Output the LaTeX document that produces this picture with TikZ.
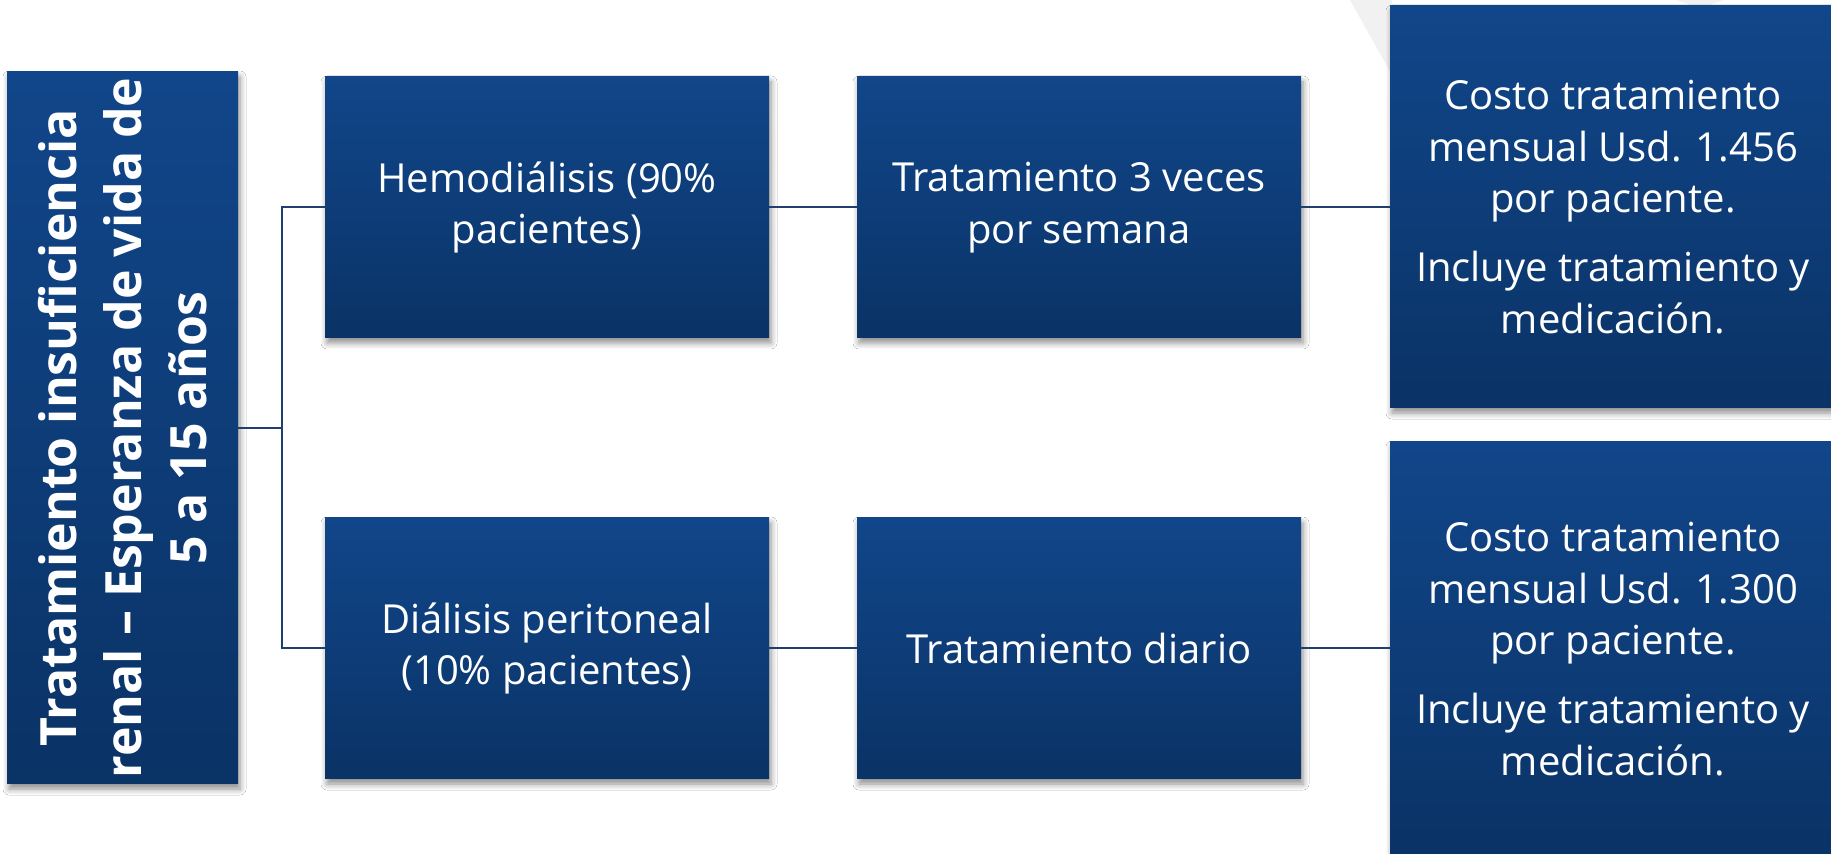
\documentclass[tikz,border=0pt]{standalone}
\usepackage{fontspec}
\setmainfont{Open Sans}
\usetikzlibrary{shadows.blur}
\definecolor{boxtop}{HTML}{11468A}
\definecolor{boxbot}{HTML}{0A3366}
\definecolor{linkcol}{HTML}{1F3F6E}
\definecolor{wmark}{HTML}{F1F1F1}
\tikzset{
  bluebox/.style={rectangle, inner sep=4pt, top color=boxtop, bottom color=boxbot, draw=none,
    text=white, align=center, font=\fontsize{20pt}{25.8pt}\selectfont,
    blur shadow={shadow xshift=1pt, shadow yshift=-2.5pt, shadow blur steps=6, shadow blur radius=3pt, shadow opacity=45}},
  midbox/.style={bluebox, minimum width=222pt, minimum height=130.5pt},
  costbox/.style={bluebox, minimum width=223pt},
  link/.style={draw=linkcol, line width=1pt},
  roottext/.style={rotate=90, text=white, align=center, font=\fontsize{25pt}{32.5pt}\selectfont\bfseries}
}
\begin{document}
\begin{tikzpicture}[x=0.5pt, y=-0.5pt]
\useasboundingbox (0,0) rectangle (1831,854);
\clip (0,0) rectangle (1831,854);
\fill[white] (0,0) rectangle (1831,854);
\fill[wmark] (1350,0) -- (1392,0) -- (1392,75) -- cycle;
\fill[wmark] (1676,0) -- (1700,8) -- (1724,0) -- cycle;
% root
\node[bluebox, minimum width=115.5pt, minimum height=356pt] (root) at (122.5,428) {};
\node[roottext] (roottxt) at (root.center) {Tratamiento insuficiencia\\renal – Esperanza de vida de\\5 a 15 años};
% level 1
\node[midbox] (hemo) at (547,207.5) {Hemodiálisis (90\%\\pacientes)};
\node[midbox] (dial) at (547,648.5) {Diálisis peritoneal\\(10\% pacientes)};
% level 2
\node[midbox] (tres) at (1079,207.5) {Tratamiento 3 veces\\por semana};
\node[midbox] (diario) at (1079,648.5) {Tratamiento diario};
% level 3
\node[costbox, minimum height=201pt] (cost1) at (1613,207) {Costo tratamiento\\mensual Usd. 1.456\\por paciente.\\[8.5pt]Incluye tratamiento y\\medicación.};
\node[costbox, minimum height=207pt] (cost2) at (1613,649) {Costo tratamiento\\mensual Usd. 1.300\\por paciente.\\[8.5pt]Incluye tratamiento y\\medicación.};
% connectors
\coordinate (jn) at (282,428);
\draw[link] (root.east) -- (jn);
\draw[link] (jn) |- (hemo.west);
\draw[link] (jn) |- (dial.west);
\draw[link] (hemo.east) -- (tres.west);
\draw[link] (dial.east) -- (diario.west);
\draw[link] (tres.east) -- (cost1.west |- tres.east);
\draw[link] (diario.east) -- (cost2.west |- diario.east);
\end{tikzpicture}
\end{document}
